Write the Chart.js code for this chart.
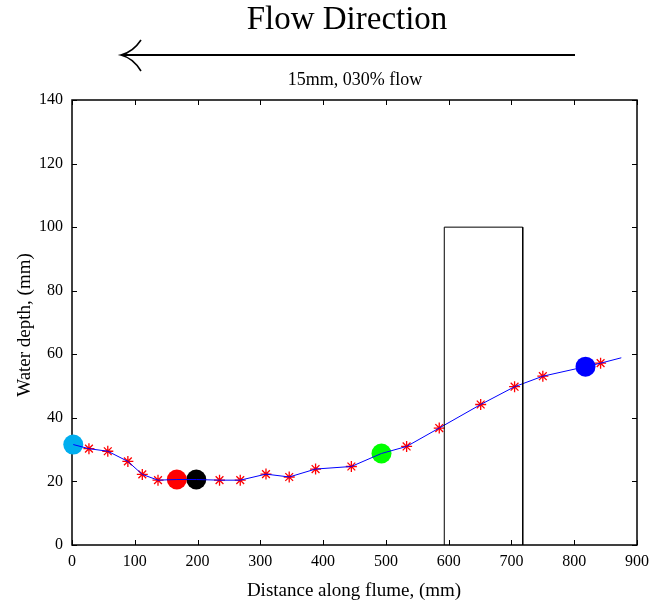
<!DOCTYPE html>
<html>
<head>
<meta charset="utf-8">
<script src="https://cdn.jsdelivr.net/npm/chart.js@4/dist/chart.umd.min.js"></script>
<style>
  html, body { margin: 0; padding: 0; background: #fff; }
  #wrap { width: 651px; height: 604px; }
</style>
</head>
<body>
<div id="wrap"><canvas id="myChart" width="651" height="604"></canvas></div>
<script>
// measured depths (red stars)
const starX = [27, 57, 89, 112, 137, 235, 268, 309, 346, 388, 445, 533, 585, 651, 705, 750, 842];
const starY = [30.3, 29.5, 26.3, 22.2, 20.4, 20.4, 20.4, 22.3, 21.4, 23.9, 24.7, 31.0, 36.8, 44.2, 49.8, 53.1, 57.2];

// profile line
const profileX = [2, 27, 57, 89, 112, 137, 167, 198, 235, 268, 309, 346, 388, 445, 493, 533, 585, 651, 705, 750, 818, 842, 875];
const profileY = [31.6, 30.3, 29.5, 26.3, 22.2, 20.4, 20.6, 20.6, 20.4, 20.4, 22.3, 21.4, 23.9, 24.7, 28.8, 31.0, 36.8, 44.2, 49.8, 53.1, 56.1, 57.2, 58.9];

// coloured marker positions
const markerX = [2, 167, 198, 493, 818];
const markerY = [31.6, 20.6, 20.6, 28.8, 56.1];
const markerColors = ['#00aeef', '#ff0000', '#000000', '#00ff00', '#0000ff'];

// obstacle block
const blockX = [593, 593, 718, 718];
const blockY = [0, 100, 100, 0];

const xTicks = [0, 100, 200, 300, 400, 500, 600, 700, 800, 900];
const yTicks = [0, 20, 40, 60, 80, 100, 120, 140];

const serif = '"Liberation Serif", "DejaVu Serif", serif';

function pts(xs, ys) {
    return xs.map((x, i) => ({ x: x, y: ys[i] }));
}

const frame = {
    id: 'frame',
    beforeDatasetsDraw(chart) {
        const ctx = chart.ctx;
        const a = chart.chartArea;
        const xs = chart.scales.x;
        const ys = chart.scales.y;
        ctx.save();
        ctx.strokeStyle = '#000';
        ctx.lineWidth = 1;
        ctx.beginPath();
        xTicks.forEach(v => {
            const px = Math.round(xs.getPixelForValue(v)) + 0.5;
            ctx.moveTo(px, a.bottom); ctx.lineTo(px, a.bottom - 5);
            ctx.moveTo(px, a.top); ctx.lineTo(px, a.top + 5);
        });
        yTicks.forEach(v => {
            const py = Math.round(ys.getPixelForValue(v)) + 0.5;
            ctx.moveTo(a.left, py); ctx.lineTo(a.left + 5, py);
            ctx.moveTo(a.right, py); ctx.lineTo(a.right - 5, py);
        });
        ctx.stroke();
        ctx.lineWidth = 1.5;
        ctx.strokeRect(a.left, a.top, a.right - a.left, a.bottom - a.top);
        ctx.restore();
    },
    afterDraw(chart) {
        const ctx = chart.ctx;
        ctx.save();
        ctx.fillStyle = '#000';
        ctx.textAlign = 'center';
        ctx.textBaseline = 'middle';
        ctx.font = '33px ' + serif;
        ctx.fillText('Flow Direction', 347, 20);
        ctx.font = '18px ' + serif;
        ctx.fillText('15mm, 030% flow', 355, 80);

        // arrow
        ctx.strokeStyle = '#000';
        ctx.lineWidth = 2;
        ctx.beginPath();
        ctx.moveTo(575, 55);
        ctx.lineTo(122, 55);
        ctx.stroke();
        ctx.lineWidth = 1.6;
        ctx.beginPath();
        ctx.moveTo(141, 40);
        ctx.quadraticCurveTo(133, 52, 121, 55);
        ctx.quadraticCurveTo(133, 58, 141, 71);
        ctx.stroke();

        // axis titles
        ctx.font = '19px ' + serif;
        ctx.fillText('Distance along flume, (mm)', 354, 591);
        ctx.translate(25, 325);
        ctx.rotate(-Math.PI / 2);
        ctx.fillText('Water depth, (mm)', 0, 0);
        ctx.restore();
    }
};

const markerSets = markerX.map((x, i) => ({
    type: 'scatter',
    data: [{ x: x, y: markerY[i] }],
    backgroundColor: markerColors[i],
    borderWidth: 0,
    pointRadius: 10,
    pointHoverRadius: 10,
    clip: false
}));

const ctx = document.getElementById('myChart').getContext('2d');
const myChart = new Chart(ctx, {
    type: 'scatter',
    data: {
        datasets: [
            {
                type: 'line',
                data: pts(blockX, blockY),
                borderColor: '#000',
                borderWidth: 1,
                pointRadius: 0,
                fill: false,
                tension: 0
            },
            {
                type: 'line',
                data: pts(profileX, profileY),
                borderColor: '#0000ff',
                borderWidth: 1,
                pointRadius: 0,
                fill: false,
                tension: 0
            },
            {
                type: 'scatter',
                data: pts(starX, starY),
                pointStyle: 'star',
                pointRadius: 5.5,
                borderColor: '#ff0000',
                backgroundColor: '#ff0000',
                borderWidth: 1.3
            },
            ...markerSets
        ]
    },
    options: {
        responsive: false,
        animation: false,
        layout: { padding: { top: 100, right: 14, left: 0, bottom: 0 } },
        plugins: {
            legend: { display: false },
            tooltip: { enabled: false }
        },
        scales: {
            x: {
                type: 'linear',
                min: 0,
                max: 900,
                grid: { display: false },
                border: { display: false },
                ticks: {
                    stepSize: 100,
                    padding: -1,
                    color: '#000',
                    maxRotation: 0,
                    font: { family: serif, size: 16 }
                },
                afterFit(scale) {
                    scale.height = 59;
                    scale.paddingLeft = 0;
                    scale.paddingRight = 0;
                }
            },
            y: {
                type: 'linear',
                min: 0,
                max: 140,
                grid: { display: false },
                border: { display: false },
                ticks: {
                    stepSize: 20,
                    padding: 1,
                    color: '#000',
                    font: { family: serif, size: 16 }
                },
                afterFit(scale) {
                    scale.width = 72;
                    scale.paddingTop = 0;
                    scale.paddingBottom = 0;
                }
            }
        }
    },
    plugins: [frame]
});
</script>
</body>
</html>
